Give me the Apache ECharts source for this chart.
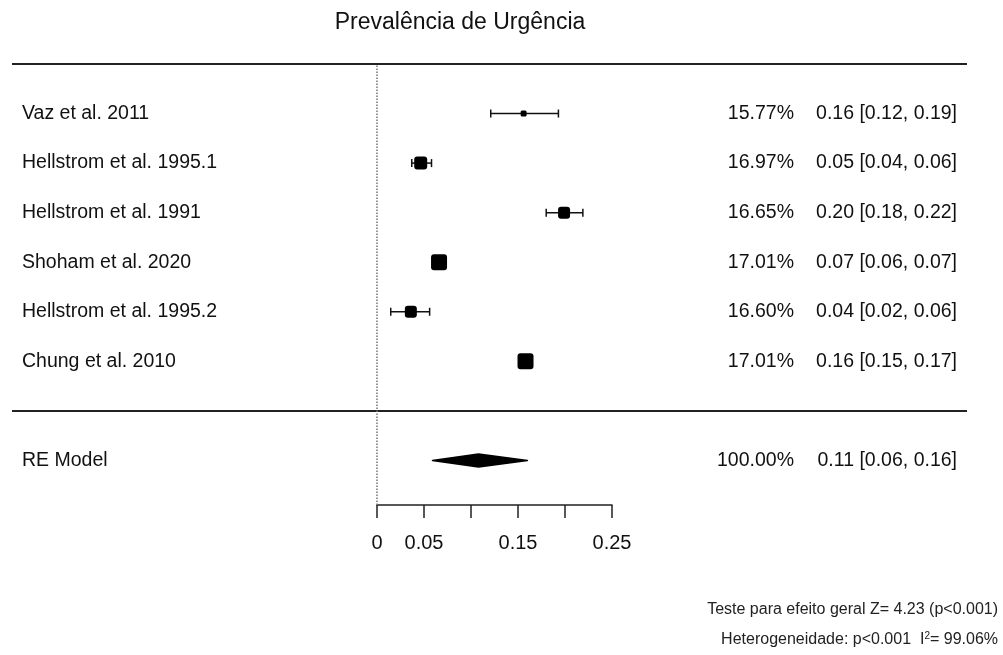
<!DOCTYPE html>
<html>
<head>
<meta charset="utf-8">
<script src="https://cdn.jsdelivr.net/npm/echarts@6/dist/echarts.min.js"></script>
<style>html,body{margin:0;padding:0;background:#fff}#c{width:1003px;height:655px}</style>
</head>
<body>
<div id="c"></div>
<script>
const studies = ['Vaz et al. 2011','Hellstrom et al. 1995.1','Hellstrom et al. 1991','Shoham et al. 2020','Hellstrom et al. 1995.2','Chung et al. 2010'];
const estimates = [0.156, 0.0465, 0.199, 0.066, 0.036, 0.158];
const lowers    = [0.121, 0.037, 0.180, 0.061, 0.0146, 0.152];
const uppers    = [0.193, 0.058, 0.219, 0.071, 0.056, 0.165];
const weights   = ['15.77%','16.97%','16.65%','17.01%','16.60%','17.01%'];
const estTexts  = ['0.16 [0.12, 0.19]','0.05 [0.04, 0.06]','0.20 [0.18, 0.22]','0.07 [0.06, 0.07]','0.04 [0.02, 0.06]','0.16 [0.15, 0.17]'];
const reModel   = {name:'RE Model', est:0.108, lo:0.059, hi:0.160, weight:'100.00%', text:'0.11 [0.06, 0.16]'};
const tickLabels = ['0','0.05','','0.15','','0.25'];
// marker box sizes (style, px)
const boxPx = [6, 13, 12, 16, 12, 16];

const FONT = '"Liberation Sans", Arial, sans-serif';
const k = studies.length;
const rowOf = i => k - i;

function leftLabel(v){
  if (v >= 1 && v <= k) return studies[k - v];
  if (v === -1) return reModel.name;
  return '';
}
function rightLabel(v){
  if (v >= 1 && v <= k) return '{p|' + weights[k - v] + '}{e|' + estTexts[k - v] + '}';
  if (v === -1) return '{p|' + reModel.weight + '}{e|' + reModel.text + '}';
  return '';
}

const studyData = studies.map((s,i)=>[estimates[i], lowers[i], uppers[i], rowOf(i), boxPx[i]]);

const chart = echarts.init(document.getElementById('c'), null, {renderer:'canvas'});
chart.setOption({
  animation:false,
  backgroundColor:'#fff',
  textStyle:{fontFamily:FONT},
  graphic:[
    {type:'text', style:{text:'Prevalência de Urgência', x:460, y:23, fontSize:23, fontFamily:FONT, fill:'#111', textAlign:'center', textVerticalAlign:'middle'}},
    {type:'text', style:{text:'Teste para efeito geral Z= 4.23 (p<0.001)', x:998, y:610, fontSize:16, fontFamily:FONT, fill:'#222', textAlign:'right', textVerticalAlign:'middle'}},
    {type:'text', style:{rich:{sup:{fontSize:10, verticalAlign:'top', fill:'#222', padding:[0,0,8,0]}, n:{fontSize:16, fill:'#222'}}, text:'{n|Heterogeneidade: p<0.001  I}{sup|2}{n|= 99.06%}', x:998, y:640, fontSize:16, fontFamily:FONT, fill:'#222', textAlign:'right', textVerticalAlign:'middle'}}
  ],
  grid:[
    {left:12, right:36, top:64, bottom:145},
    {left:377, width:235, top:64, bottom:150}
  ],
  xAxis:[
    {gridIndex:0, type:'value', min:0, max:1, show:false},
    {gridIndex:1, type:'value', min:0, max:0.25, interval:0.05, position:'bottom',
     axisLine:{show:true, onZero:false, lineStyle:{color:'#222', width:1.5}},
     axisTick:{show:true, length:13, lineStyle:{color:'#222', width:1.5}},
     axisLabel:{show:true, margin:28, fontSize:20, color:'#111', fontFamily:FONT, formatter:(v,i)=>tickLabels[i]},
     splitLine:{show:false}}
  ],
  yAxis:[
    {gridIndex:0, type:'value', min:-2, max:7, interval:1, position:'left',
     axisLine:{show:false}, axisTick:{show:false}, splitLine:{show:false},
     axisLabel:{show:true, inside:true, margin:10, fontSize:19.5, color:'#111', fontFamily:FONT, formatter:leftLabel}},
    {gridIndex:0, type:'value', min:-2, max:7, interval:1, position:'right',
     axisLine:{show:false}, axisTick:{show:false}, splitLine:{show:false},
     axisLabel:{show:true, inside:true, margin:10, color:'#111', fontFamily:FONT, formatter:rightLabel,
       rich:{p:{width:80, align:'right', fontSize:19.5, color:'#111', fontFamily:FONT}, e:{width:163, align:'right', fontSize:19.5, color:'#111', fontFamily:FONT}}}},
    {gridIndex:1, type:'value', min:-1.9, max:7, show:false}
  ],
  series:[
    {type:'line', xAxisIndex:0, yAxisIndex:0, data:[], silent:true,
     markLine:{silent:true, symbol:'none', label:{show:false},
       lineStyle:{color:'#222', width:2, type:'solid'},
       data:[{yAxis:7},{yAxis:0}]}},
    {type:'line', xAxisIndex:1, yAxisIndex:2, data:[], silent:true,
     markLine:{silent:true, symbol:'none', label:{show:false},
       lineStyle:{color:'#777', width:1.5, type:'dotted'},
       data:[{xAxis:0}]}},
    {type:'custom', xAxisIndex:1, yAxisIndex:2, clip:false, silent:true, data:studyData,
     renderItem:function(params, api){
       const est=api.value(0), lo=api.value(1), hi=api.value(2), row=api.value(3), sz=api.value(4);
       const c=api.coord([est,row]), a=api.coord([lo,row]), b=api.coord([hi,row]);
       const cap=4, st={stroke:'#111', lineWidth:1.5};
       return {type:'group', children:[
         {type:'line', shape:{x1:a[0],y1:a[1],x2:b[0],y2:b[1]}, style:st},
         {type:'line', shape:{x1:a[0],y1:a[1]-cap,x2:a[0],y2:a[1]+cap}, style:st},
         {type:'line', shape:{x1:b[0],y1:b[1]-cap,x2:b[0],y2:b[1]+cap}, style:st},
         {type:'rect', shape:{x:c[0]-sz/2, y:c[1]-sz/2, width:sz, height:sz, r:Math.min(3, sz/4)}, style:{fill:'#000'}}
       ]};
     }},
    {type:'custom', xAxisIndex:1, yAxisIndex:2, clip:false, silent:true, data:[[reModel.est, reModel.lo, reModel.hi, -1]],
     renderItem:function(params, api){
       const est=api.value(0), lo=api.value(1), hi=api.value(2), row=api.value(3);
       const c=api.coord([est,row]), a=api.coord([lo,row]), b=api.coord([hi,row]);
       const h=6.5;
       return {type:'polygon', shape:{points:[[a[0],a[1]],[c[0],c[1]-h],[b[0],b[1]],[c[0],c[1]+h]]}, style:{fill:'#000', stroke:'#000', lineWidth:1.5, lineJoin:'round'}};
     }}
  ]
});
</script>
</body>
</html>
